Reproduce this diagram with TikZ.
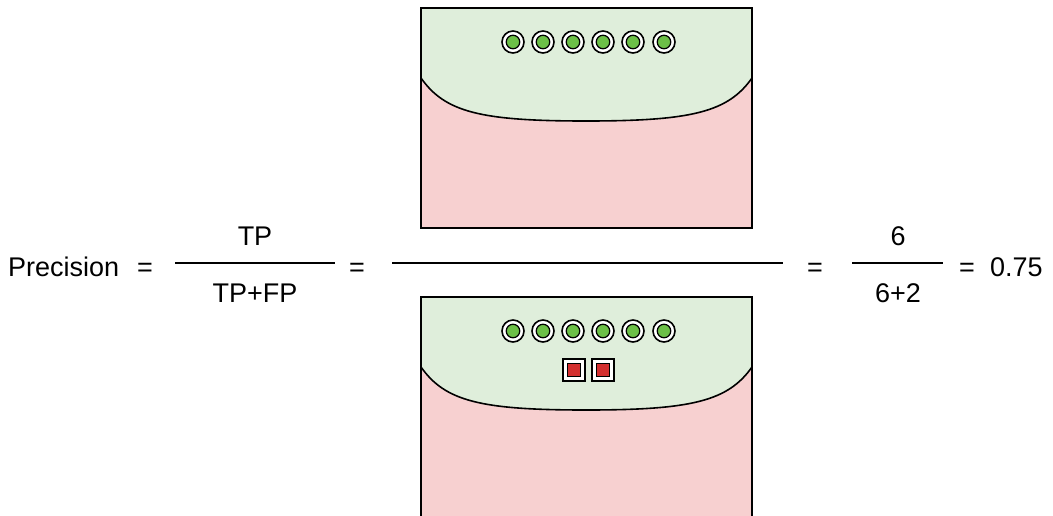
\documentclass[tikz,border=0pt]{standalone}
\usepackage{fontspec}
\setmainfont{Liberation Sans}
\definecolor{lgreen}{HTML}{DFEEDB}
\definecolor{lred}{HTML}{F7D0D0}
\definecolor{dotgreen}{HTML}{6CBF47}
\definecolor{sqred}{HTML}{D32F2F}
\tikzset{
  lbl/.style={inner sep=0pt, font=\fontsize{27}{30}\selectfont, anchor=base},
  fracline/.style={line width=1.6pt},
  ringout/.style={circle, draw=black, fill=white, line width=1.6pt, minimum size=22pt, inner sep=0pt},
  ringin/.style={circle, draw=black, fill=dotgreen, line width=1.2pt, minimum size=13.5pt, inner sep=0pt},
  sqout/.style={rectangle, draw=black, fill=white, line width=1.6pt, minimum size=21.5pt, inner sep=0pt},
  sqin/.style={rectangle, draw=black, fill=sqred, line width=1.2pt, minimum size=13.5pt, inner sep=0pt},
  boxline/.style={line width=2pt},
  curveline/.style={line width=1.6pt}
}
\newcommand{\envbox}[2]{%
  \fill[lred] (421,#1) rectangle (752,#2);
  \fill[lgreen] (421,#1) -- (421,#1+70) .. controls (445,#1+104) and (480,#1+113) .. (586,#1+113)
     .. controls (692,#1+113) and (728,#1+104) .. (752,#1+70) -- (752,#1) -- cycle;
  \draw[curveline] (421,#1+70) .. controls (445,#1+104) and (480,#1+113) .. (586,#1+113)
     .. controls (692,#1+113) and (728,#1+104) .. (752,#1+70);
}
\begin{document}
\begin{tikzpicture}[x=1pt,y=-1pt]
\path[use as bounding box] (0,0) rectangle (1053,515);
\begin{scope}
\clip (0,0) rectangle (1053,515);
% top box
\envbox{8}{228}
\draw[boxline] (421,8) rectangle (752,228);
% bottom box
\envbox{297}{560}
\draw[boxline] (421,560) -- (421,297) -- (752,297) -- (752,560);
\end{scope}
% dots
\foreach \i/\x in {1/513,2/543,3/573,4/603,5/633,6/664}{
  \node[ringout] (ta\i) at (\x,42) {};
  \node[ringin] (tb\i) at (ta\i) {};
  \node[ringout] (ba\i) at (\x,331) {};
  \node[ringin] (bb\i) at (ba\i) {};
}
\node[sqout] (sa1) at (574,370) {};
\node[sqin] (sb1) at (sa1) {};
\node[sqout] (sa2) at (603,370) {};
\node[sqin] (sb2) at (sa2) {};
% formula
\node[lbl, anchor=base west] (prec) at (8,276) {Precision};
\node[lbl] (eq1) at (145,276) {=};
\node[lbl] (tp) at (255,245) {TP};
\node[lbl] (tpfp) at (255,302) {TP+FP};
\coordinate (f1a) at (175,263);
\coordinate (f1b) at (335,263);
\draw[fracline] (f1a) -- (f1b);
\node[lbl] (eq2) at (357,276) {=};
\coordinate (f2a) at (392,263);
\coordinate (f2b) at (783,263);
\draw[fracline] (f2a) -- (f2b);
\node[lbl] (eq3) at (815,276) {=};
\node[lbl] (six) at (898,245) {6};
\node[lbl] (sixtwo) at (898,302) {6+2};
\coordinate (f3a) at (852,263);
\coordinate (f3b) at (943,263);
\draw[fracline] (f3a) -- (f3b);
\node[lbl] (eq4) at (967,276) {=};
\node[lbl, anchor=base west] (res) at (990,276) {0.75};
\end{tikzpicture}
\end{document}
